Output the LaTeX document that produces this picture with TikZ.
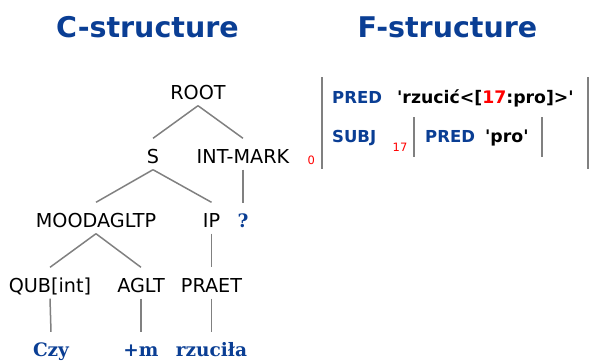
\documentclass[tikz,border=0pt]{standalone}
\usepackage{fontspec}
\setmainfont{DejaVu Sans}
\newfontfamily\wordfont{DejaVu Serif}
\definecolor{hblue}{RGB}{10,62,148}
\definecolor{lgray}{RGB}{128,128,128}
\definecolor{ired}{RGB}{255,0,0}
\begin{document}
\begin{tikzpicture}[x=1pt,y=-1pt,
  cat/.style={anchor=base, inner sep=0pt, text height=24.5pt, text depth=6.5pt, font=\fontsize{19.2}{21}\selectfont},
  word/.style={anchor=base, inner sep=0pt, text height=24pt, text depth=6pt, font=\wordfont\bfseries\fontsize{18.5}{20}\selectfont, text=hblue},
  edge/.style={draw=lgray, line width=1.5pt},
  head/.style={anchor=base, inner sep=0pt, font=\bfseries\fontsize{28.5}{30}\selectfont, text=hblue},
  attr/.style={anchor=base west, inner sep=0pt, font=\bfseries\fontsize{16.5}{18}\selectfont, text=hblue},
  val/.style={anchor=base west, inner sep=0pt, font=\bfseries\fontsize{17.3}{18}\selectfont, text=black},
  idx/.style={anchor=base west, inner sep=0pt, font=\fontsize{11.5}{12}\selectfont, text=ired},
  bar/.style={draw=lgray, line width=2pt}]
\useasboundingbox (0,0) rectangle (590,360);
% headings
\node[head] (hc) at (147.5,37) {C-structure};
\node[head] (hf) at (447.5,37) {F-structure};
% tree
\node[cat] (root) at (198,99) {ROOT};
\node[cat] (s) at (153,163) {S};
\node[cat] (im) at (243,163) {INT-MARK};
\node[cat] (mood) at (96,227) {MOODAGLTP};
\node[cat] (ip) at (211.5,227) {IP};
\node[word] (q) at (243,227) {?};
\node[cat] (qub) at (50,292) {QUB[int]};
\node[cat] (aglt) at (141,292) {AGLT};
\node[cat] (praet) at (211.5,292) {PRAET};
\node[word] (czy) at (51,356) {Czy};
\node[word] (m) at (141,356) {+m};
\node[word] (rz) at (211.5,356) {rzuciła};
\draw[edge] (root.south) -- (s.north);
\draw[edge] (root.south) -- (im.north);
\draw[edge] (s.south) -- (mood.north);
\draw[edge] (s.south) -- (ip.north);
\draw[edge] (im.south) -- (q.north);
\draw[edge] (mood.south) -- (qub.north);
\draw[edge] (mood.south) -- (aglt.north);
\draw[edge] (ip.south) -- (praet.north);
\draw[edge] (qub.south) -- (czy.north);
\draw[edge] (aglt.south) -- (m.north);
\draw[edge] (praet.south) -- (rz.north);
% f-structure
\node[idx] (i0) at (307.5,164) {0};
\draw[bar] (322,77) -- (322,169);
\draw[bar] (588,77) -- (588,169);
\node[attr] (pred) at (332,103) {PRED};
\node[val] (pv) at (397,103) {\textquotesingle rzucić<[\textcolor{ired}{17}:pro]>\textquotesingle};
\node[attr] (subj) at (332,142) {SUBJ};
\node[idx] (i17) at (392.5,151) {17};
\draw[bar] (414,117) -- (414,157);
\draw[bar] (542,117) -- (542,157);
\node[attr] (pred2) at (425,142) {PRED};
\node[val] (pro) at (485,142) {\textquotesingle pro\textquotesingle};
\end{tikzpicture}
\end{document}
